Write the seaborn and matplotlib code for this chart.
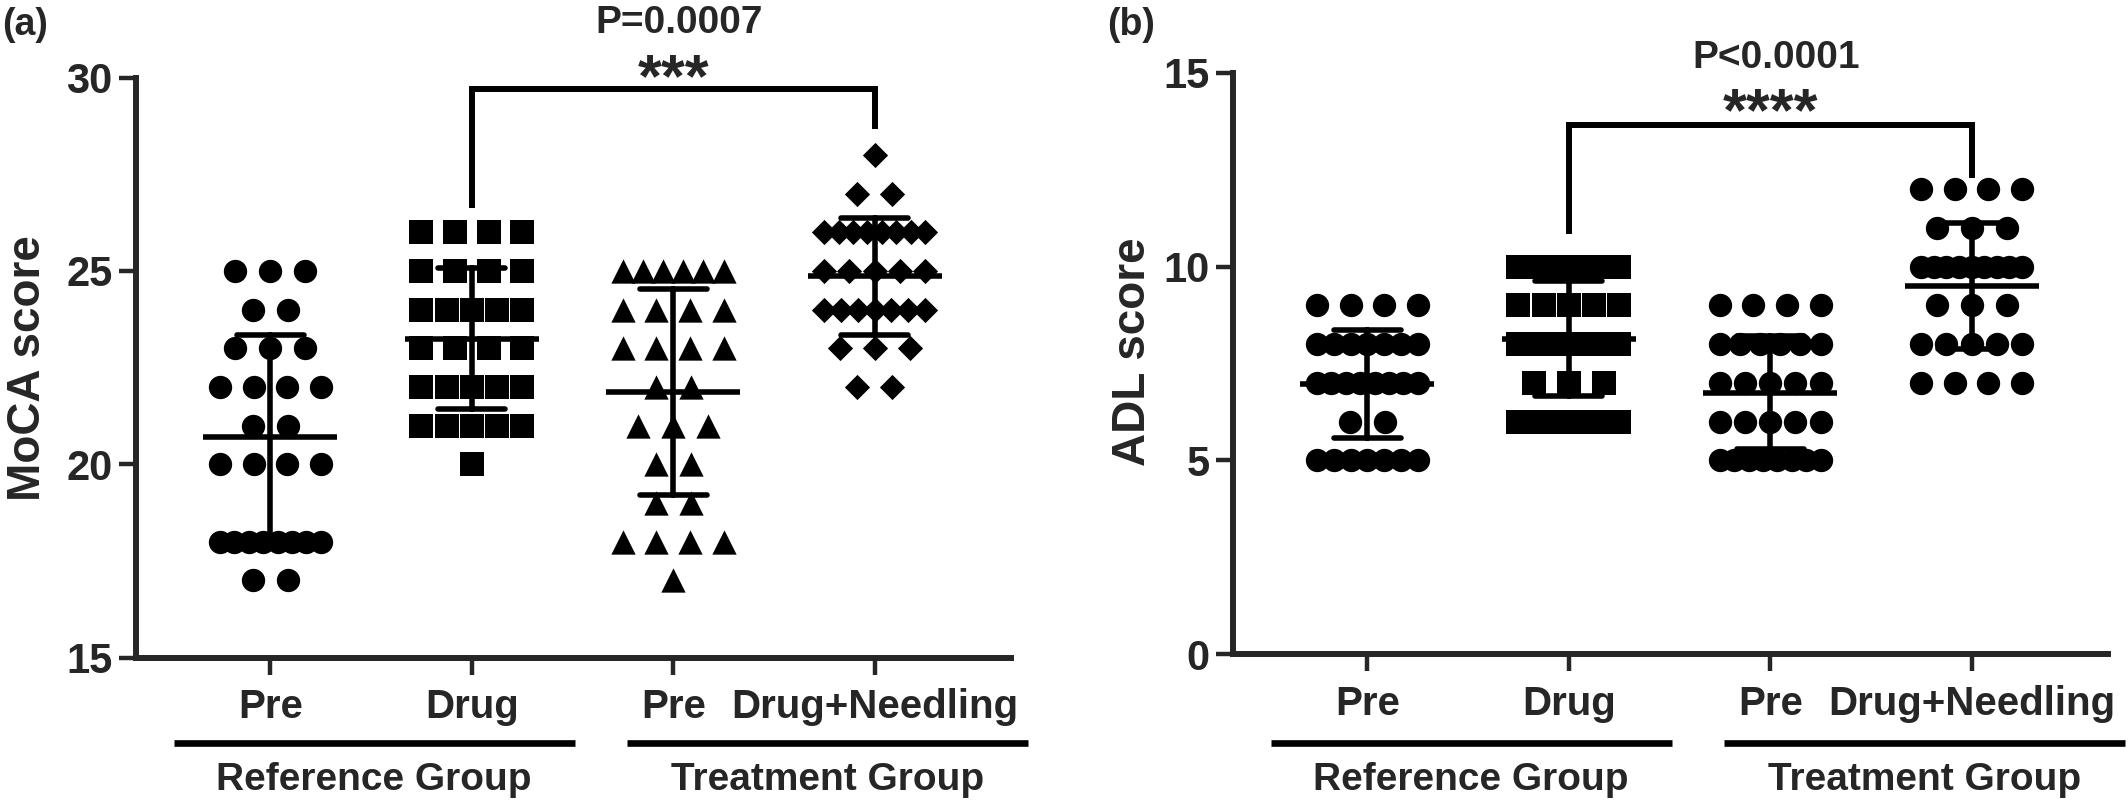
import numpy as np
import pandas as pd
import matplotlib
matplotlib.use("Agg")
import matplotlib.pyplot as plt
import matplotlib.transforms as mtransforms
import seaborn as sns

# ---------------- data ----------------
categories = ["Pre", "Drug", "Pre", "Drug+Needling"]
group_labels = ["Reference Group", "Treatment Group"]

moca_ref_pre = [25, 25, 25, 24, 24, 23, 23, 23, 22, 22, 22, 22, 21, 21,
                20, 20, 20, 20, 18, 18, 18, 18, 18, 18, 18, 18, 17, 17]
moca_ref_drug = [26, 26, 26, 26, 25, 25, 25, 25, 24, 24, 24, 24, 24, 23,
                 23, 23, 23, 22, 22, 22, 22, 22, 21, 21, 21, 21, 21, 20]
moca_trt_pre = [25, 25, 25, 25, 25, 25, 24, 24, 24, 24, 23, 23, 23, 23,
                22, 22, 21, 21, 21, 20, 20, 19, 19, 18, 18, 18, 18, 17]
moca_trt_dn = [28, 27, 27, 26, 26, 26, 26, 26, 26, 26, 26, 25, 25, 25,
               25, 25, 24, 24, 24, 24, 24, 24, 24, 23, 23, 23, 22, 22]

adl_ref_pre = [9, 9, 9, 9, 8, 8, 8, 8, 8, 8, 8, 7, 7, 7,
               7, 7, 7, 7, 7, 6, 6, 5, 5, 5, 5, 5, 5, 5]
adl_ref_drug = [10, 10, 10, 10, 10, 10, 10, 9, 9, 9, 9, 9, 8, 8,
                8, 8, 8, 8, 8, 7, 7, 7, 6, 6, 6, 6, 6, 6]
adl_trt_pre = [9, 9, 9, 9, 8, 8, 8, 8, 8, 8, 7, 7, 7, 7,
               7, 6, 6, 6, 6, 6, 5, 5, 5, 5, 5, 5, 5, 5]
adl_trt_dn = [12, 12, 12, 12, 11, 11, 11, 10, 10, 10, 10, 10, 10, 10,
              10, 10, 9, 9, 9, 8, 8, 8, 8, 8, 7, 7, 7, 7]

moca_yticks = [15, 20, 25, 30]
adl_yticks = [0, 5, 10, 15]
moca_p, moca_stars = "P=0.0007", "***"
adl_p, adl_stars = "P<0.0001", "****"

moca_markers = ["o", "s", "^", "D"]
adl_markers = ["o", "s", "o", "o"]

# ---------------- style ----------------
sns.set_theme(style="ticks")
plt.rcParams["font.family"] = ["Liberation Sans", "DejaVu Sans"]
plt.rcParams["font.weight"] = "bold"
plt.rcParams["axes.labelweight"] = "bold"

msizes = {"o": 282, "s": 306, "^": 306, "D": 165}
LW = 4.3
ELW = 4.0


def spread(values, pos, step=0.174, maxw=0.5):
    vals = np.asarray(values, dtype=float)
    xs = np.empty(len(vals))
    for v in np.unique(vals):
        idx = np.where(vals == v)[0]
        n = len(idx)
        s = min(step, maxw / (n - 1)) if n > 1 else 0.0
        xs[idx] = pos + (np.arange(n) - (n - 1) / 2.0) * s
    return xs


def build(series):
    frames = []
    for i, vals in enumerate(series):
        frames.append(pd.DataFrame({"group": i, "x": spread(vals, i), "y": vals}))
    return pd.concat(frames, ignore_index=True)


fig = plt.figure(figsize=(21.28, 8.01), dpi=100)
ax_a = fig.add_axes([136 / 2128, 1 - 657.6 / 801, 875 / 2128, 580 / 801])
ax_b = fig.add_axes([1233 / 2128, 1 - 654 / 801, 875 / 2128, 581 / 801])


def panel(ax, series, markers, ylabel, ylim, yticks, p_text, stars, br,
          star_dy, p_dy, label_xy):
    df = build(series)
    for i, m in enumerate(markers):
        sub = df[df.group == i]
        sns.scatterplot(data=sub, x="x", y="y", marker=m, s=msizes[m],
                        color="black", linewidth=0, ax=ax, zorder=3,
                        legend=False)
    sns.pointplot(data=df, x="group", y="y", native_scale=True,
                  errorbar="sd", capsize=0.333, linestyle="none",
                  marker="_", markersize=96, markeredgewidth=ELW,
                  color="black", err_kws={"linewidth": ELW}, ax=ax,
                  zorder=4)
    ax.set_xlim(-0.667, 3.677)
    ax.set_ylim(*ylim)
    ax.set_yticks(yticks)
    ax.set_xticks(range(len(categories)))
    ax.set_xticklabels(categories)
    ax.set_xlabel("")
    ax.set_ylabel(ylabel, fontsize=33, fontweight="bold")
    ax.yaxis.set_label_coords(*label_xy)
    sns.despine(ax=ax)
    for s in ["left", "bottom"]:
        ax.spines[s].set_linewidth(LW)
        ax.spines[s].set_capstyle("projecting")
    ax.tick_params(axis="y", length=12, width=3.2, pad=5, labelsize=30)
    ax.tick_params(axis="x", length=12, width=3.2, pad=10, labelsize=29)
    for t in ax.get_xticklabels() + ax.get_yticklabels():
        t.set_fontweight("bold")

    # significance bracket
    x0, x1, yl, ytop, yr = br
    ax.plot([x0, x0, x1, x1], [yl, ytop, ytop, yr], color="black", lw=LW,
            clip_on=False, solid_joinstyle="miter", solid_capstyle="butt")
    ax.text((x0 + x1) / 2, ytop + star_dy, stars, ha="center",
            va="baseline", fontsize=44, fontweight="bold", clip_on=False)
    ax.text((x0 + x1) / 2 + 0.03, ytop + p_dy, p_text, ha="center",
            va="center", fontsize=28, fontweight="bold", clip_on=False)

    # group lines and labels below the axis
    tr = mtransforms.blended_transform_factory(ax.transData, fig.transFigure)
    spans = [(-0.48, 1.51), (1.77, 3.76)]
    for (g0, g1), lab in zip(spans, group_labels):
        ax.plot([g0, g1], [1 - 743 / 801] * 2, transform=tr, color="black",
                lw=4.8, clip_on=False, solid_capstyle="butt")
        ax.text((g0 + g1) / 2, 1 - 780 / 801, lab, transform=tr,
                ha="center", va="center", fontsize=28, fontweight="bold")


panel(ax_a, [moca_ref_pre, moca_ref_drug, moca_trt_pre, moca_trt_dn],
      moca_markers, "MoCA score", (15, 30), moca_yticks, moca_p, moca_stars,
      (1, 3, 26.63, 29.70, 28.67), -0.19, 1.71, (-0.098, 0.5))
panel(ax_b, [adl_ref_pre, adl_ref_drug, adl_trt_pre, adl_trt_dn],
      adl_markers, "ADL score", (0, 15), adl_yticks, adl_p, adl_stars,
      (1, 3, 10.84, 13.65, 12.29), -0.13, 1.73, (-0.089, 0.52))

fig.text(2 / 2128, 1 - 25 / 801, "(a)", ha="left", va="center",
         fontsize=27, fontweight="bold")
fig.text(1107 / 2128, 1 - 25 / 801, "(b)", ha="left", va="center",
         fontsize=27, fontweight="bold")

fig.savefig("out.png", dpi=100)
